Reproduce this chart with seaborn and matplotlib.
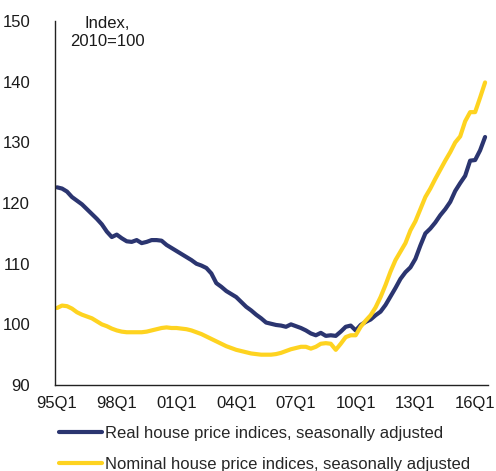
import numpy as np
import pandas as pd
import seaborn as sns
import matplotlib.pyplot as plt

# quarterly index values, 95Q1 .. 16Q3 (2010=100)
real = [122.6, 122.4, 121.9, 121.0, 120.4, 119.8, 119.0, 118.2, 117.4, 116.5,
        115.3, 114.4, 114.8, 114.2, 113.7, 113.6, 113.9, 113.4, 113.6, 113.9,
        113.9, 113.8, 113.1, 112.6, 112.1, 111.6, 111.1, 110.6, 110.0, 109.7,
        109.3, 108.4, 106.8, 106.2, 105.5, 105.0, 104.5, 103.7, 102.9, 102.3,
        101.6, 101.0, 100.3, 100.1, 99.9, 99.8, 99.6, 100.0, 99.7, 99.4,
        99.0, 98.5, 98.2, 98.6, 98.1, 98.2, 98.1, 98.8, 99.6, 99.8,
        99.0, 99.9, 100.4, 100.8, 101.5, 102.1, 103.2, 104.6, 106.0, 107.5,
        108.6, 109.4, 110.8, 113.0, 115.0, 115.8, 116.8, 118.0, 119.0, 120.2,
        122.0, 123.3, 124.5, 127.0, 127.1, 128.7, 130.9]
nominal = [102.7, 103.1, 103.0, 102.6, 102.0, 101.6, 101.3, 101.0, 100.5, 100.0,
           99.7, 99.3, 99.0, 98.8, 98.7, 98.7, 98.7, 98.7, 98.8, 99.0,
           99.2, 99.4, 99.5, 99.4, 99.4, 99.3, 99.2, 99.0, 98.7, 98.4,
           98.0, 97.6, 97.2, 96.8, 96.4, 96.1, 95.8, 95.6, 95.4, 95.2,
           95.1, 95.0, 95.0, 95.0, 95.1, 95.3, 95.6, 95.9, 96.1, 96.3,
           96.3, 96.0, 96.3, 96.8, 96.9, 96.8, 95.8, 96.8, 97.9, 98.2,
           98.2, 99.6, 100.6, 101.5, 102.8, 104.5, 106.5, 108.7, 110.6, 112.0,
           113.4, 115.5, 117.0, 119.0, 121.0, 122.4, 124.0, 125.5, 127.0, 128.4,
           130.0, 131.0, 133.5, 135.0, 135.0, 137.4, 139.9]
tick_labels = ['95Q1', '98Q1', '01Q1', '04Q1', '07Q1', '10Q1', '13Q1', '16Q1']
names = ['Real house price indices, seasonally adjusted',
         'Nominal house price indices, seasonally adjusted']

q = np.arange(len(real))
df = pd.DataFrame({'quarter': np.concatenate([q, q]),
                   'value': real + nominal,
                   'series': [names[0]] * len(q) + [names[1]] * len(q)})

sns.set_style('white')
plt.rcParams['font.family'] = ['Liberation Sans', 'DejaVu Sans']

fig = plt.figure(figsize=(4.96, 4.71), dpi=100)
ax = fig.add_axes([0.111, 0.1826, 0.873, 0.7724])
sns.lineplot(data=df, x='quarter', y='value', hue='series',
             palette=['#2b3570', '#fed320'], linewidth=3, ax=ax)

ax.set_xlim(-0.4, 86.6)
ax.set_ylim(90, 150)
ax.set_xticks(np.arange(0, 85, 12))
ax.set_xticklabels(tick_labels)
ax.set_yticks(np.arange(90, 151, 10))
ax.tick_params(axis='both', length=0, labelsize=12, colors='#1a1a1a')
ax.tick_params(axis='y', pad=18)
ax.tick_params(axis='x', pad=8)
ax.set_xlabel('')
ax.set_ylabel('')
for s in ['top', 'right']:
    ax.spines[s].set_visible(False)
for s in ['left', 'bottom']:
    ax.spines[s].set_color('#222222')
    ax.spines[s].set_linewidth(1.0)

ax.text(0.12, 1.014, 'Index,\n2010=100', transform=ax.transAxes,
        ha='center', va='top', multialignment='center', fontsize=12,
        color='#1a1a1a', linespacing=1.2)

ax.legend(loc='upper left', bbox_to_anchor=(-0.007, -0.095), frameon=False,
          fontsize=12, handlelength=2.6, handletextpad=0.2, labelspacing=0.95,
          borderaxespad=0)

fig.savefig('out.png', dpi=100)
